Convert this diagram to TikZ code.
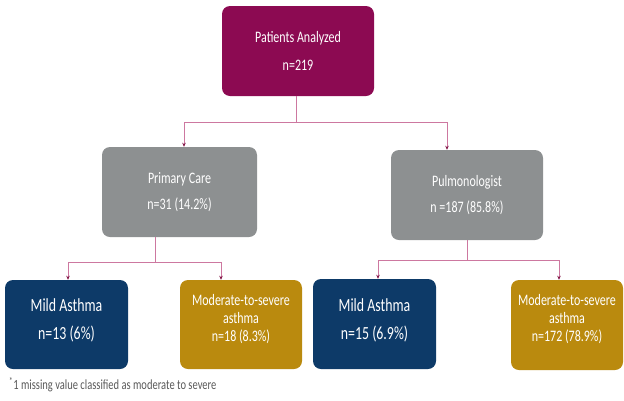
\documentclass[tikz,border=0pt]{standalone}
\usepackage{fontspec}
\usepackage{tikz}
\usetikzlibrary{arrows.meta}

\newfontfamily\boxfont[FakeStretch=0.75]{Carlito}

\definecolor{plum}{RGB}{140,10,82}
\definecolor{slate}{RGB}{141,144,145}
\definecolor{navy}{RGB}{13,58,104}
\definecolor{ochre}{RGB}{186,138,14}
\definecolor{linkpink}{RGB}{205,120,160}
\definecolor{tipred}{RGB}{130,20,70}

\begin{document}
\begin{tikzpicture}[x=1pt,y=-1pt,
  box/.style={rounded corners=8pt, text=white, align=center,
    inner sep=0pt, font=\boxfont\fontsize{16}{18}\selectfont},
  lifted/.style={text depth=14pt},
  bigtext/.style={font=\boxfont\fontsize{18.5}{20}\selectfont, text depth=10pt},
  paths/.style={draw=linkpink, line width=0.8pt,
    -{Stealth[length=4pt,width=3.5pt,color=tipred]}}]

 \useasboundingbox (0,0) rectangle (624,400);

 \node [box, fill=plum, minimum width=152pt, minimum height=90pt] (patients) at (298,51)
     {Patients Analyzed\\[10pt]n=219};

 \node [box, fill=slate, minimum width=155pt, minimum height=90pt] (primary) at (179.5,192)
     {Primary Care\\[8pt]n=31 (14.2\%)};

 \node [box, fill=slate, minimum width=152pt, minimum height=90pt] (pulmo) at (467,195)
     {Pulmonologist\\[8pt]n =187 (85.8\%)};

 \node [box, bigtext, fill=navy, minimum width=123pt, minimum height=89pt] (mild_pc) at (66.5,324.5)
     {Mild Asthma\\[8pt]n=13 (6\%)};

 \node [box, lifted, fill=ochre, minimum width=122pt, minimum height=89pt] (modsev_pc) at (241,324.5)
     {Moderate-to-severe\\asthma\\n=18 (8.3\%)};

 \node [box, bigtext, fill=navy, minimum width=123pt, minimum height=90pt] (mild_pu) at (374.5,324)
     {Mild Asthma\\[8pt]n=15 (6.9\%)};

 \node [box, lifted, fill=ochre, minimum width=112pt, minimum height=90pt] (modsev_pu) at (567,325)
     {Moderate-to-severe\\asthma\\n=172 (78.9\%)};

 \node [anchor=west, text=black!65, inner sep=0pt,
   font=\boxfont\fontsize{14}{16}\selectfont] (footnote) at (9,385)
     {\textsuperscript{*}1 missing value classified as moderate to severe};


 \draw [paths] ([xshift=-2pt]patients.south) -- ++(0,26) -| ([xshift=4.5pt]primary.north);
 \draw [paths] ([xshift=-2pt]patients.south) -- ++(0,26) -| ([xshift=-20pt]pulmo.north);
 \draw [paths] ([xshift=-24.5pt]primary.south) -- ++(0,25) -| ([xshift=1.5pt]mild_pc.north);
 \draw [paths] ([xshift=-24.5pt]primary.south) -- ++(0,25) -| ([xshift=-20pt]modsev_pc.north);
 \draw [paths] (pulmo.south) -- ++(0,20) -| ([xshift=3.5pt]mild_pu.north);
 \draw [paths] (pulmo.south) -- ++(0,20) -| ([xshift=-8pt]modsev_pu.north);


\end{tikzpicture}
\end{document}
